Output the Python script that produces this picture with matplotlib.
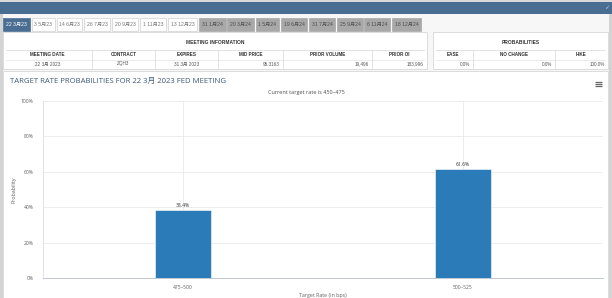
import matplotlib
matplotlib.use("Agg")
import matplotlib.pyplot as plt
from matplotlib.patches import Rectangle

# data
tab_labels = ["22 3月23", "3 5月23", "14 6月23", "26 7月23", "20 9月23", "1 11月23",
              "13 12月23", "31 1月24", "20 3月24", "1 5月24", "19 6月24", "31 7月24",
              "25 9月24", "6 11月24", "18 12月24"]
info_headers = ["MEETING DATE", "CONTRACT", "EXPIRES", "MID PRICE", "PRIOR VOLUME", "PRIOR OI"]
info_values = ["22 3月 2023", "ZQH3", "31 3月 2023", "95.3163", "19,496", "183,996"]
prob_headers = ["EASE", "NO CHANGE", "HIKE"]
prob_values = ["0.0%", "0.0%", "100.0%"]
rate_bins = ["475–500", "500–525"]
probabilities = [38.4, 61.6]
current_rate = "450–475"
meeting = "22 3月 2023"

# layout (pixels)
tab_left = [3, 32, 57, 84, 112, 140, 168, 199, 227, 256, 281, 309, 337, 364, 392]
tab_right = [30, 55, 82, 110, 138, 166, 197, 226, 254, 279, 307, 335, 363, 390, 421]
info_cols = [3, 92, 155, 218, 283, 372, 427]
prob_cols = [433, 473, 555, 608]

FONT = ["Open Sans", "Noto Sans CJK SC"]
BOLD = ["Liberation Sans", "Noto Sans CJK SC"]
plt.rcParams["font.family"] = FONT

fig = plt.figure(figsize=(6.12, 2.98), dpi=100, facecolor="#f3f3f3")
bg = fig.add_axes([0, 0, 1, 1])
bg.set_xlim(0, 612)
bg.set_ylim(298, 0)
bg.axis("off")

def box(x0, y0, x1, y1, fc, ec="none", lw=0.6, z=1):
    bg.add_patch(Rectangle((x0, y0), x1 - x0, y1 - y0, facecolor=fc, edgecolor=ec, lw=lw, zorder=z))

# header bar
box(0, 0, 612, 2, "#d9d9d9")
box(0, 2, 612, 14, "#4a6e92")
bg.text(607, 8, "✓", color="#a9c8e8", fontsize=4.5, ha="center", va="center", family="DejaVu Sans")
box(0, 14, 612, 298, "#f7f7f7")
box(0, 14, 2.5, 298, "#d4d4d4")
box(609, 14, 612, 298, "#d4d4d4")

# tabs
for i, lab in enumerate(tab_labels):
    if i == 0:
        fc, ec, tc = "#4a6e92", "#4a6e92", "white"
    elif i < 7:
        fc, ec, tc = "white", "#d0d0d0", "#777777"
    else:
        fc, ec, tc = "#a8a8a8", "#a8a8a8", "#4d4d4d"
    box(tab_left[i], 18, tab_right[i], 30.5, fc, ec, lw=0.5)
    bg.text((tab_left[i] + tab_right[i]) / 2, 24.5, lab, color=tc, fontsize=3.7,
            ha="center", va="center", family=BOLD)

# meeting information table
box(3, 32, 427, 68.5, "white", "#d6d6d6")
box(433, 32, 608, 68.5, "white", "#d6d6d6")
bg.text((3 + 427) / 2, 43, "MEETING INFORMATION", fontsize=3.5, weight="bold",
        color="#333333", ha="center", va="center", family=BOLD)
bg.text((433 + 608) / 2, 43, "PROBABILITIES", fontsize=3.5, weight="bold",
        color="#333333", ha="center", va="center", family=BOLD)
for x0, x1 in [(3, 427), (433, 608)]:
    bg.plot([x0 + 3, x1 - 3], [50, 50], color="#d6d6d6", lw=0.5)
    bg.plot([x0 + 3, x1 - 3], [59.5, 59.5], color="#e3e3e3", lw=0.5)

def fill_cols(cols, heads, vals, right_from):
    for j, (h, v) in enumerate(zip(heads, vals)):
        xa, xb = cols[j], cols[j + 1]
        if j > 0:
            bg.plot([xa, xa], [50, 68.5], color="#d6d6d6", lw=0.5)
        bg.text((xa + xb) / 2, 55, h, fontsize=3.3, weight="bold", color="#333333",
                ha="center", va="center", family=BOLD)
        if j >= right_from:
            bg.text(xb - 3, 64, v, fontsize=3.3, color="#555555", ha="right",
                    va="center", family=BOLD)
        else:
            bg.text((xa + xb) / 2, 64, v, fontsize=3.3, color="#555555",
                    ha="center", va="center", family=BOLD)

fill_cols(info_cols, info_headers, info_values, 3)
fill_cols(prob_cols, prob_headers, prob_values, 0)

# chart panel
box(3, 71, 608, 300, "white", "#d6d6d6")
bg.text(10, 81, f"TARGET RATE PROBABILITIES FOR {meeting} FED MEETING", fontsize=5.6,
        color="#3d5a78", ha="left", va="center")
bg.text(306, 92.5, f"Current target rate is {current_rate}", fontsize=4.0,
        color="#4d4d4d", ha="center", va="center")
for yy in [82.3, 84, 85.7]:
    bg.plot([594.5, 601.5], [yy, yy], color="#666666", lw=0.9, solid_capstyle="butt")
bg.text(594, 122, "Q", fontsize=11, weight="bold", color="#b3b3b3",
        ha="center", va="center", family="Liberation Sans")
bg.plot([578, 587], [127, 114], color="#cfe6f7", lw=1.2)

# bar chart
ax = fig.add_axes([43 / 612, 20 / 298, 560 / 612, 177 / 298])
ax.set_facecolor("white")
ax.bar(rate_bins, probabilities, width=0.2, color="#2b7bb9", edgecolor="white",
       lw=0.4, zorder=3)
for i, p in enumerate(probabilities):
    ax.text(i, p + 1.2, f"{p}%", fontsize=3.6, color="#333333", ha="center", va="bottom")
ax.set_ylim(0, 100)
ax.set_xlim(-0.5, 1.5)
ax.set_yticks(range(0, 101, 20))
ax.set_yticklabels([f"{v}%" for v in range(0, 101, 20)])
ax.grid(True, color="#e6e6e6", lw=0.5, zorder=0)
ax.tick_params(axis="both", labelsize=3.6, labelcolor="#606060", length=0, pad=7)
ax.tick_params(axis="x", pad=5)
for s in ["top", "right"]:
    ax.spines[s].set_visible(False)
ax.spines["left"].set_color("#dddddd")
ax.spines["left"].set_linewidth(0.6)
ax.spines["bottom"].set_color("#c0c8d4")
ax.spines["bottom"].set_linewidth(0.7)
ax.set_ylabel("Probability", fontsize=3.8, color="#606060", labelpad=3)
ax.set_xlabel("Target Rate (in bps)", fontsize=3.8, color="#606060", labelpad=2)

fig.savefig("out.png", dpi=100, facecolor=fig.get_facecolor())
